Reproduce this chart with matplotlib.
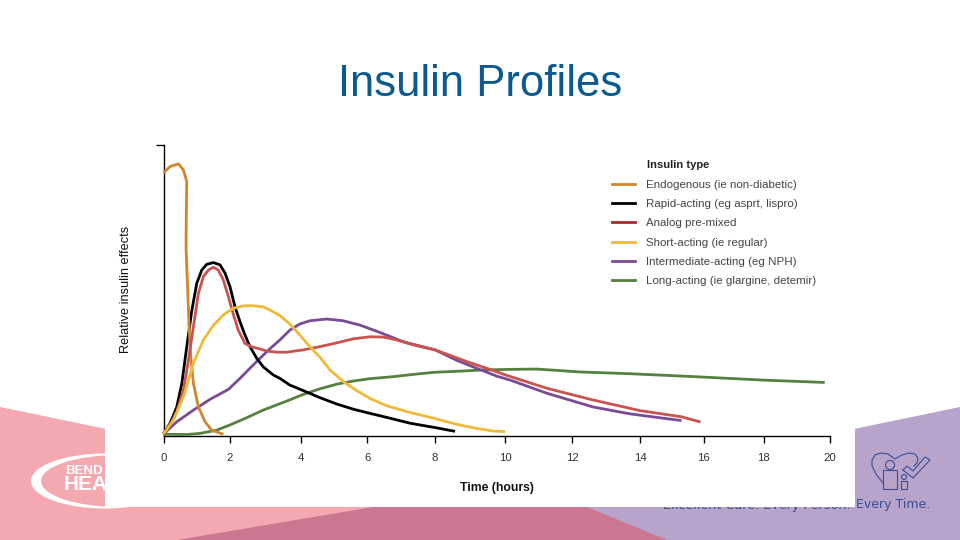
import numpy as np
import matplotlib
matplotlib.use('Agg')
import matplotlib.pyplot as plt
from matplotlib.lines import Line2D
from matplotlib.patches import Polygon, Rectangle, Ellipse

plt.rcParams['font.family'] = ['Liberation Sans', 'DejaVu Sans']

title = 'Insulin Profiles'
x_ticks = [0, 2, 4, 6, 8, 10, 12, 14, 16, 18, 20]
legend_title = 'Insulin type'
names = ['Endogenous (ie non-diabetic)', 'Rapid-acting (eg asprt, lispro)', 'Analog pre-mixed',
         'Short-acting (ie regular)', 'Intermediate-acting (eg NPH)', 'Long-acting (ie glargine, detemir)']

endo_x = [0, .2, .45, .6, .7, .69, .68, .68, .72, .77, .82, .9, 1.05, 1.25, 1.45, 1.8]
endo_y = [90.5, 92.6, 93.5, 91.4, 87.4, 80, 69.6, 63.9, 52.5, 37.6, 27.3, 18, 10, 4.9, 2, .6]

rapid_x = [0, .2, .4, .55, .7, .85, 1.0, 1.15, 1.3, 1.5, 1.7, 1.85, 2.0, 2.14, 2.28, 2.42, 2.56, 2.75, 2.93,
           3.21, 3.4, 3.68, 4.06, 4.56, 5.07, 5.58, 6, 6.57, 7.26, 8, 8.57]
rapid_y = [.7, 4.4, 10, 18, 30.7, 43, 52.5, 57, 59, 59.6, 58.8, 56, 51.3, 44.4, 39.3, 34.7, 30.7, 26.7, 23.8,
           21, 19.8, 17.5, 15.6, 13.2, 11, 9.2, 8, 6.4, 4.4, 2.9, 1.6]

analog_x = [0, .2, .4, .6, .75, .9, 1.05, 1.2, 1.35, 1.5, 1.65, 1.8, 1.95, 2.09, 2.23, 2.42, 2.6, 2.75, 3.03,
            3.31, 3.59, 4.06, 4.56, 5.07, 5.58, 6.08, 6.47, 6.87, 7.36, 8, 8.52, 8.99, 9.47, 10,
            11.24, 12.6, 14, 15.3, 15.9]
analog_y = [.7, 3.8, 8.4, 15.8, 26, 37.6, 49, 54.8, 57, 58, 57, 53.6, 47.9, 42, 36.4, 31.8, 30.7, 30.2, 29.2,
            28.8, 28.8, 29.6, 30.7, 32, 33.4, 34.1, 34, 33, 31.3, 29.6, 27.3, 25.2, 23.3, 21,
            16.4, 12.4, 8.7, 6.6, 4.8]

short_x = [0, .3, .6, .9, 1.2, 1.5, 1.8, 2.09, 2.37, 2.6, 2.93, 3.12, 3.4, 3.68, 3.96, 4.26, 4.57, 4.87, 5.27,
           5.68, 6.08, 6.57, 7.26, 8, 8.62, 9.18, 9.66, 10]
short_y = [.7, 5.5, 13.5, 25, 33, 38, 41.6, 43.9, 44.7, 44.8, 44.4, 43.3, 41.4, 38.5, 34.7, 30.7, 27, 22.7, 18.7,
           15.6, 12.9, 10.4, 8.1, 6, 4, 2.6, 1.7, 1.5]

inter_x = [0, .4, .9, 1.4, 1.95, 2.28, 2.56, 2.84, 3.12, 3.4, 3.68, 3.96, 4.26, 4.77, 5.27, 5.78, 6.37, 7.06, 8,
           8.62, 9.18, 9.75, 10.15, 11.24, 12.6, 13.7, 15.3]
inter_y = [.7, 4.9, 8.9, 12.6, 16, 19.8, 23.3, 26.7, 30, 33, 36.4, 38.5, 39.6, 40.2, 39.6, 38.1, 35.6, 32.4, 29.6,
           26, 23.3, 20.6, 19.2, 14.7, 10, 7.6, 5.3]

long_x = [0, .7, 1.1, 1.6, 2, 2.47, 2.93, 3.59, 4.06, 4.56, 5.07, 5.58, 6.08, 6.77, 7.46, 8, 8.73, 9.38, 10.15,
          10.94, 12.24, 13.7, 15.7, 18, 19.84]
long_y = [.6, .5, .9, 2, 3.8, 6.3, 8.9, 12, 14.3, 16.2, 17.8, 18.9, 19.7, 20.4, 21.3, 21.9, 22.3, 22.7, 22.9,
          23, 22, 21.4, 20.4, 19.2, 18.4]

# the drawing's hour ticks are not evenly spaced, so the x scale follows them
tick_px = np.array([163.5, 230, 301.3, 367.3, 435, 505.3, 572.3, 640.3, 703.7, 763.7, 830])
tick_pos = (tick_px - tick_px[0]) / (tick_px[-1] - tick_px[0]) * 20

colors = ['#d0852f', '#000000', '#c9534f', '#f0b93a', '#7b4a94', '#55803f']
legend_colors = ['#d0852f', '#000000', '#a82a2a', '#f0b93a', '#7b4a94', '#55803f']

fig = plt.figure(figsize=(9.6, 5.4), dpi=100, facecolor='white')

# slide background, in pixels
bg = fig.add_axes([0, 0, 1, 1], zorder=0)
bg.set_xlim(0, 960)
bg.set_ylim(540, 0)
bg.axis('off')
pink = '#f4a9b0'
mauve = '#cc7792'
purple = '#b8a3cb'
bg.add_patch(Polygon([(0, 407), (400, 490), (400, 540), (0, 540)], fc=pink, ec='none'))
bg.add_patch(Polygon([(960, 407), (560, 490), (560, 540), (960, 540)], fc=purple, ec='none'))
bg.add_patch(Polygon([(177, 540), (373, 507), (587, 507), (667, 540)], fc=mauve, ec='none'))

# logo and strapline, the white panel hides part of them
bg.add_patch(Ellipse((105, 481), 148, 55, fc='white', ec='none', zorder=2))
bg.add_patch(Ellipse((119, 481), 156, 52, fc=pink, ec='none', zorder=2))
bg.text(65, 471, 'BEND', color='white', fontsize=9.5, fontweight='bold', va='center', zorder=3)
bg.text(64, 485, 'HEA', color='white', fontsize=15, fontweight='bold', va='center', zorder=3)
navy = '#3a4f94'
bg.text(930, 508, 'Every Time.', color=navy, fontsize=9, family='DejaVu Sans', ha='right', va='baseline', zorder=3)
bg.text(663, 508.5, 'Excellent Care. Every Person.', color=navy, fontsize=9.2, family='DejaVu Sans',
        va='baseline', zorder=3)

# heart, people and tick icon
bg.plot([883, 876, 872, 872, 875, 881, 888, 895, 902, 909, 915, 918, 917, 914],
        [483, 474, 466, 460, 455, 453, 454, 459, 455, 453, 454, 458, 463, 466], color=navy, lw=.8, zorder=3)
bg.add_patch(Ellipse((890, 465), 9, 9, fc=purple, ec=navy, lw=.8, zorder=4))
bg.add_patch(Rectangle((883, 470), 14, 19, fc=purple, ec=navy, lw=.8, zorder=4))
bg.add_patch(Ellipse((904, 477), 5, 5, fc=purple, ec=navy, lw=.8, zorder=4))
bg.add_patch(Rectangle((901, 481), 6, 8, fc=purple, ec=navy, lw=.8, zorder=4))
bg.plot([903, 913, 930, 925, 913, 907, 903], [470, 478, 460, 457, 471, 466, 470], color=navy, lw=.8, zorder=4)

bg.add_patch(Rectangle((105, 0), 750, 507, fc='white', ec='none', zorder=5))
bg.add_patch(Rectangle((0, 0), 960, 400, fc='white', ec='none', zorder=1))

fig.text(480 / 960, 1 - 85 / 540, title, color='#0b5a8f', fontsize=31.4, ha='center', va='center', zorder=10)

ax = fig.add_axes([163.5 / 960, 1 - 436 / 540, (830 - 163.5) / 960, 291 / 540], zorder=2)
ax.patch.set_alpha(0)
ax.set_xscale('function', functions=(lambda h: np.interp(h, x_ticks, tick_pos),
                                     lambda p: np.interp(p, tick_pos, x_ticks)))
ax.set_xlim(0, 20)
ax.set_ylim(0, 100)

series = [(endo_x, endo_y), (long_x, long_y), (inter_x, inter_y), (rapid_x, rapid_y),
          (analog_x, analog_y), (short_x, short_y)]
series_colors = [colors[0], colors[5], colors[4], colors[1], colors[2], colors[3]]
zorders = [6, 3, 4, 5, 6, 7]
for (xs, ys), c, z in zip(series, series_colors, zorders):
    ax.plot(xs, ys, color=c, lw=2, solid_capstyle='butt', solid_joinstyle='round', zorder=z, clip_on=False)

for s in ['top', 'right']:
    ax.spines[s].set_visible(False)
ax.spines['left'].set_linewidth(1)
ax.spines['bottom'].set_linewidth(1)
ax.set_xticks(x_ticks)
ax.set_xticklabels([str(v) for v in x_ticks], fontsize=8.2, color='#333333')
ax.xaxis.set_minor_locator(matplotlib.ticker.NullLocator())
ax.tick_params(axis='x', length=5, width=1, pad=7)
ax.set_yticks([100])
ax.set_yticklabels([''])
ax.tick_params(axis='y', length=6, width=1)

fig.text(126 / 960, 1 - 289 / 540, 'Relative insulin effects', rotation=90, fontsize=9.2,
         ha='center', va='center', color='#111111', zorder=10)
fig.text(497 / 960, 1 - 488 / 540, 'Time (hours)', fontsize=8.8, fontweight='bold',
         ha='center', va='center', color='#111111', zorder=10)

# legend title sits over the labels, not over the line samples
fig.text(647 / 960, 1 - 165.5 / 540, legend_title, fontsize=8, fontweight='bold', ha='left', va='center',
         color='#222222', zorder=10)
handles = [Line2D([], [], color=c, lw=2) for c in legend_colors]
leg = ax.legend(handles, names, loc='upper left',
                bbox_to_anchor=((612 - 163.5) / 666.5, (436 - 180) / 291), frameon=False,
                fontsize=8.25, handlelength=2.0, handletextpad=1.0, labelspacing=.8,
                borderpad=0, borderaxespad=0)
for text in leg.get_texts():
    text.set_color('#444444')

fig.savefig('out.png', dpi=100)
